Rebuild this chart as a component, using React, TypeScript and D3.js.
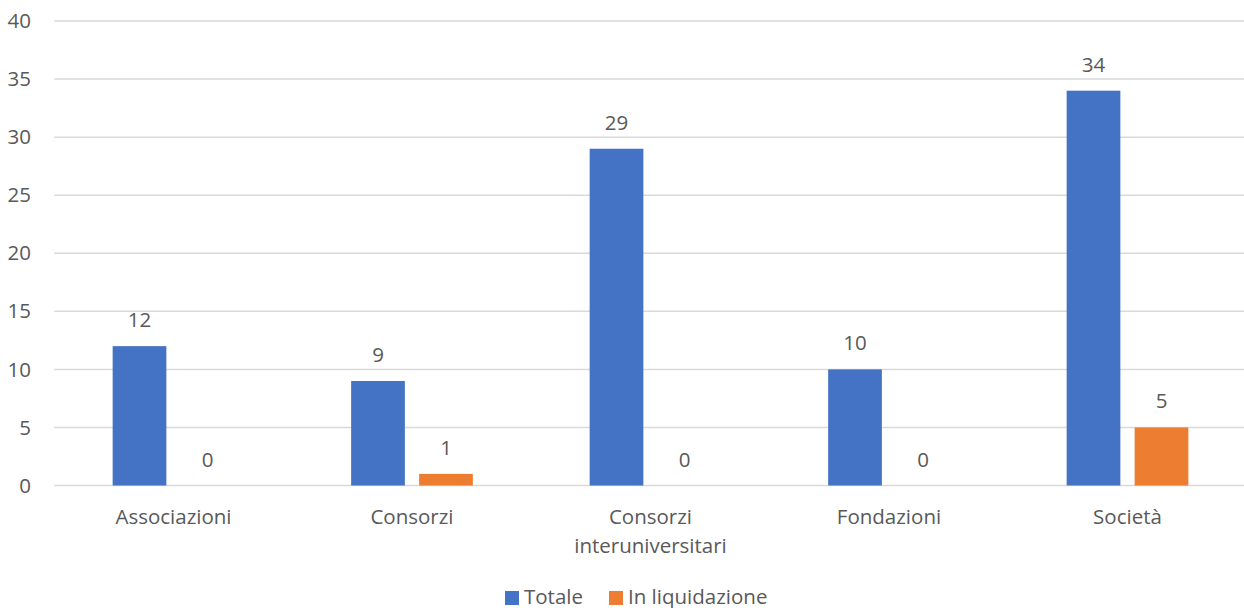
import * as d3 from "d3";

const categories = [
  "Associazioni",
  "Consorzi",
  "Consorzi interuniversitari",
  "Fondazioni",
  "Società",
];
const seriesNames = ["Totale", "In liquidazione"];
const totale = [12, 9, 29, 10, 34];
const inLiquidazione = [0, 1, 0, 0, 5];
const yTicks = [0, 5, 10, 15, 20, 25, 30, 35, 40];

const colors = ["#4472c4", "#ed7d31"];
const textColor = "#595959";
const font = "'Open Sans', sans-serif";
const fontSize = 20.5;

export default function App() {
  const width = 1244;
  const height = 608;
  const plotLeft = 54.25;
  const plotRight = 1246.75;
  const plotTop = 21;
  const plotBottom = 485.5;

  const series = [totale, inLiquidazione];

  const x0 = d3
    .scaleBand()
    .domain(categories)
    .range([plotLeft, plotRight])
    .padding(0);

  const x1 = d3
    .scaleBand()
    .domain(seriesNames)
    .range([0, x0.bandwidth()])
    .paddingInner(0.21)
    .paddingOuter(0.859);

  const y = d3.scaleLinear().domain([0, 40]).range([plotBottom, plotTop]);

  return (
    <svg
      width={width}
      height={height}
      style={{ position: "absolute", left: 0, top: 0, background: "#fff" }}
      fontFamily={font}
    >
      {/* gridlines + y labels */}
      <g>
        {yTicks.map((t) => (
          <g key={t}>
            <line
              x1={plotLeft}
              x2={width}
              y1={y(t)}
              y2={y(t)}
              stroke="#d9d9d9"
              strokeWidth={1.5}
            />
            <text
              x={31}
              y={y(t)}
              dy="0.35em"
              textAnchor="end"
              fontSize={fontSize}
              fill={textColor}
            >
              {t}
            </text>
          </g>
        ))}
      </g>

      {/* bars */}
      {categories.map((c, i) => (
        <g key={c} transform={`translate(${x0(c)},0)`}>
          {seriesNames.map((s, j) => {
            const v = series[j][i];
            const bx = x1(s)!;
            return (
              <g key={s}>
                <rect
                  x={bx}
                  y={y(v)}
                  width={x1.bandwidth()}
                  height={plotBottom - y(v)}
                  fill={colors[j]}
                />
                <text
                  x={bx + x1.bandwidth() / 2}
                  y={y(v) - 19}
                  textAnchor="middle"
                  fontSize={fontSize}
                  fill={textColor}
                >
                  {v}
                </text>
              </g>
            );
          })}
        </g>
      ))}

      {/* x labels */}
      {categories.map((c) => (
        <text
          key={c}
          x={x0(c)! + x0.bandwidth() / 2}
          y={524}
          textAnchor="middle"
          fontSize={fontSize}
          fill={textColor}
        >
          {c.split(" ").map((line, k) => (
            <tspan key={k} x={x0(c)! + x0.bandwidth() / 2} dy={k === 0 ? 0 : 28.7}>
              {line}
            </tspan>
          ))}
        </text>
      ))}

      {/* legend */}
      <g>
        <rect x={505} y={591} width={14} height={14} fill={colors[0]} />
        <text x={524} y={603.5} fontSize={fontSize} fill={textColor}>
          {seriesNames[0]}
        </text>
        <rect x={609} y={591} width={14} height={14} fill={colors[1]} />
        <text x={628} y={603.5} fontSize={fontSize} fill={textColor}>
          {seriesNames[1]}
        </text>
      </g>
    </svg>
  );
}
